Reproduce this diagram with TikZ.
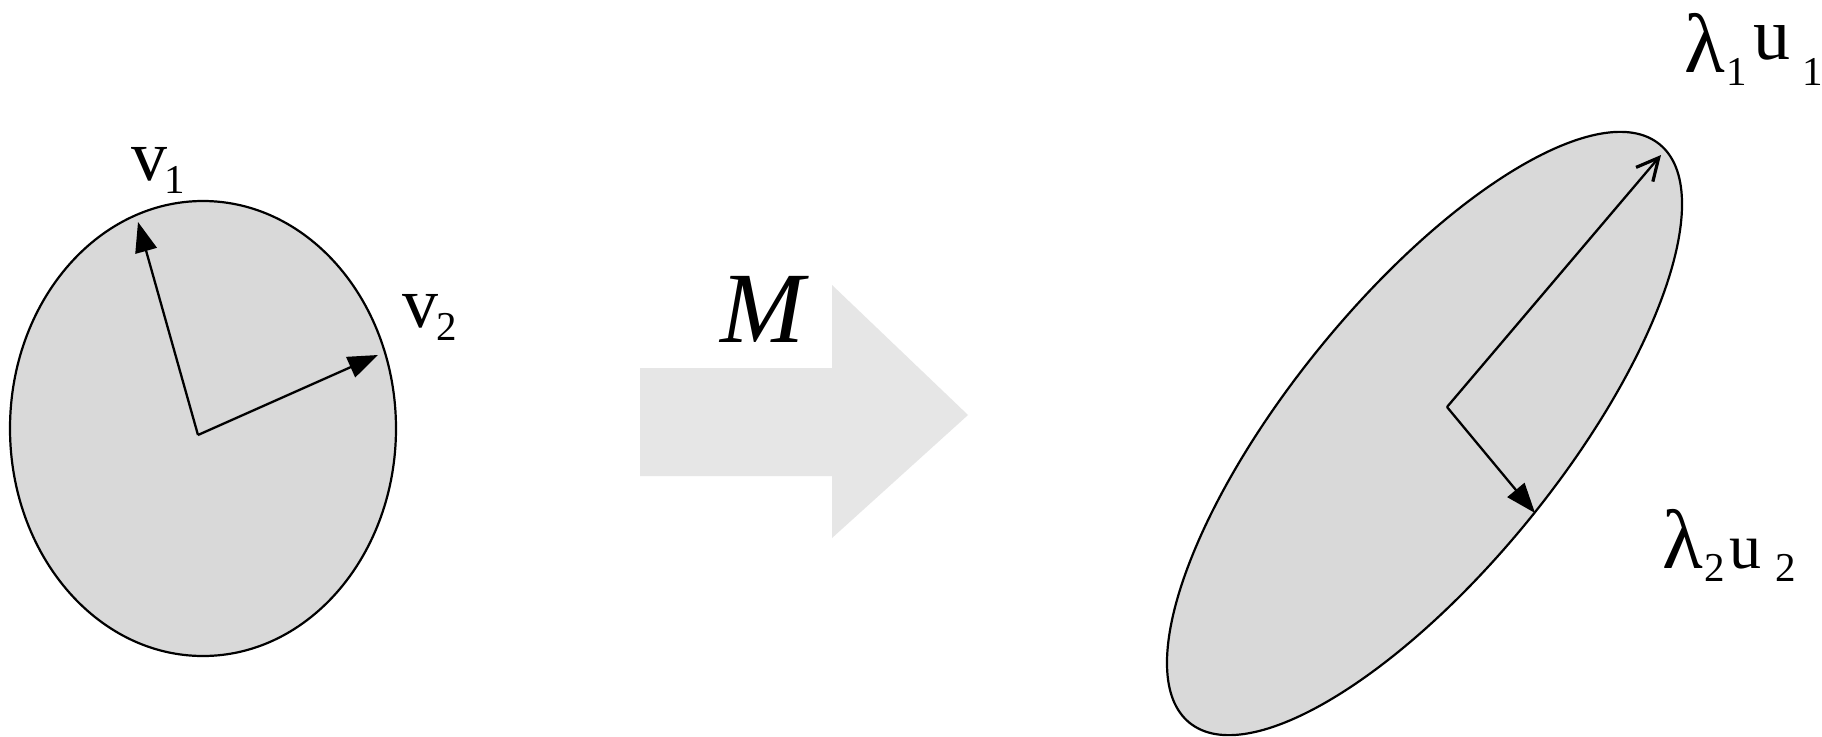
\documentclass[tikz,border=0pt]{standalone}
\usepackage{fontspec}
\setmainfont{Liberation Serif}
\usetikzlibrary{arrows.meta}
\definecolor{shapegray}{RGB}{217,217,217}
\definecolor{arrowgray}{RGB}{230,230,230}
\newcommand{\subsz}[1]{\raisebox{-13pt}{\fontsize{41}{41}\selectfont #1}}
\begin{document}
\begin{tikzpicture}[x=1pt,y=1pt,
  blob/.style={draw=black, line width=2.2pt, fill=shapegray},
  vec/.style={line width=2.3pt, -{Triangle[length=30pt,width=22pt]}},
  openvec/.style={line width=2.3pt, -{Straight Barb[length=22pt,width=22pt,line width=3.2pt]}},
  lbl/.style={inner sep=0pt, anchor=base west, font=\fontsize{72}{72}\selectfont}]
\useasboundingbox (0,0) rectangle (1822,-736);
\fill[white] (0,0) rectangle (1822,-736);
% transformation arrow
\fill[arrowgray] (640,-368) -- (832,-368) -- (832,-285) -- (968,-415) -- (832,-538) -- (832,-476) -- (640,-476) -- cycle;
% left ellipse
\draw[blob] (203,-428.5) ellipse [x radius=193pt, y radius=227.5pt];
\coordinate (o1) at (198,-435);
\coordinate (v1tip) at (138,-222);
\coordinate (v2tip) at (378,-355);
\draw[vec] (o1) -- (v1tip);
\draw[vec] (o1) -- (v2tip);
% right ellipse
\draw[blob, rotate around={50.9:(1424.5,-433.5)}] (1424.5,-433.5) ellipse [x radius=372.7pt, y radius=135.4pt];
\coordinate (o2) at (1447,-407);
\coordinate (u1tip) at (1661,-155);
\coordinate (u2tip) at (1535,-513);
\draw[openvec] (o2) -- (u1tip);
\draw[vec] (o2) -- (u2tip);
% labels
\node[lbl] (v1) at (131,-180) {v\hspace{-3pt}\subsz{1}};
\node[lbl] (v2) at (402,-327) {v\hspace{-2pt}\subsz{2}};
\node[inner sep=0pt, anchor=base west, font=\fontsize{101}{101}\selectfont\itshape] (M) at (720,-342) {M};
\node[lbl] (l1) at (1684,-72) {\fontsize{84}{84}\selectfont λ\hspace{2pt}\subsz{1}\hspace{6pt}\raisebox{13pt}{\fontsize{74}{74}\selectfont u}\hspace{12pt}\subsz{1}};
\node[lbl] (l2) at (1662,-568) {\fontsize{84}{84}\selectfont λ\hspace{2pt}\subsz{2}\hspace{4pt}{\fontsize{64}{64}\selectfont u}\hspace{14pt}\subsz{2}};
\end{tikzpicture}
\end{document}
